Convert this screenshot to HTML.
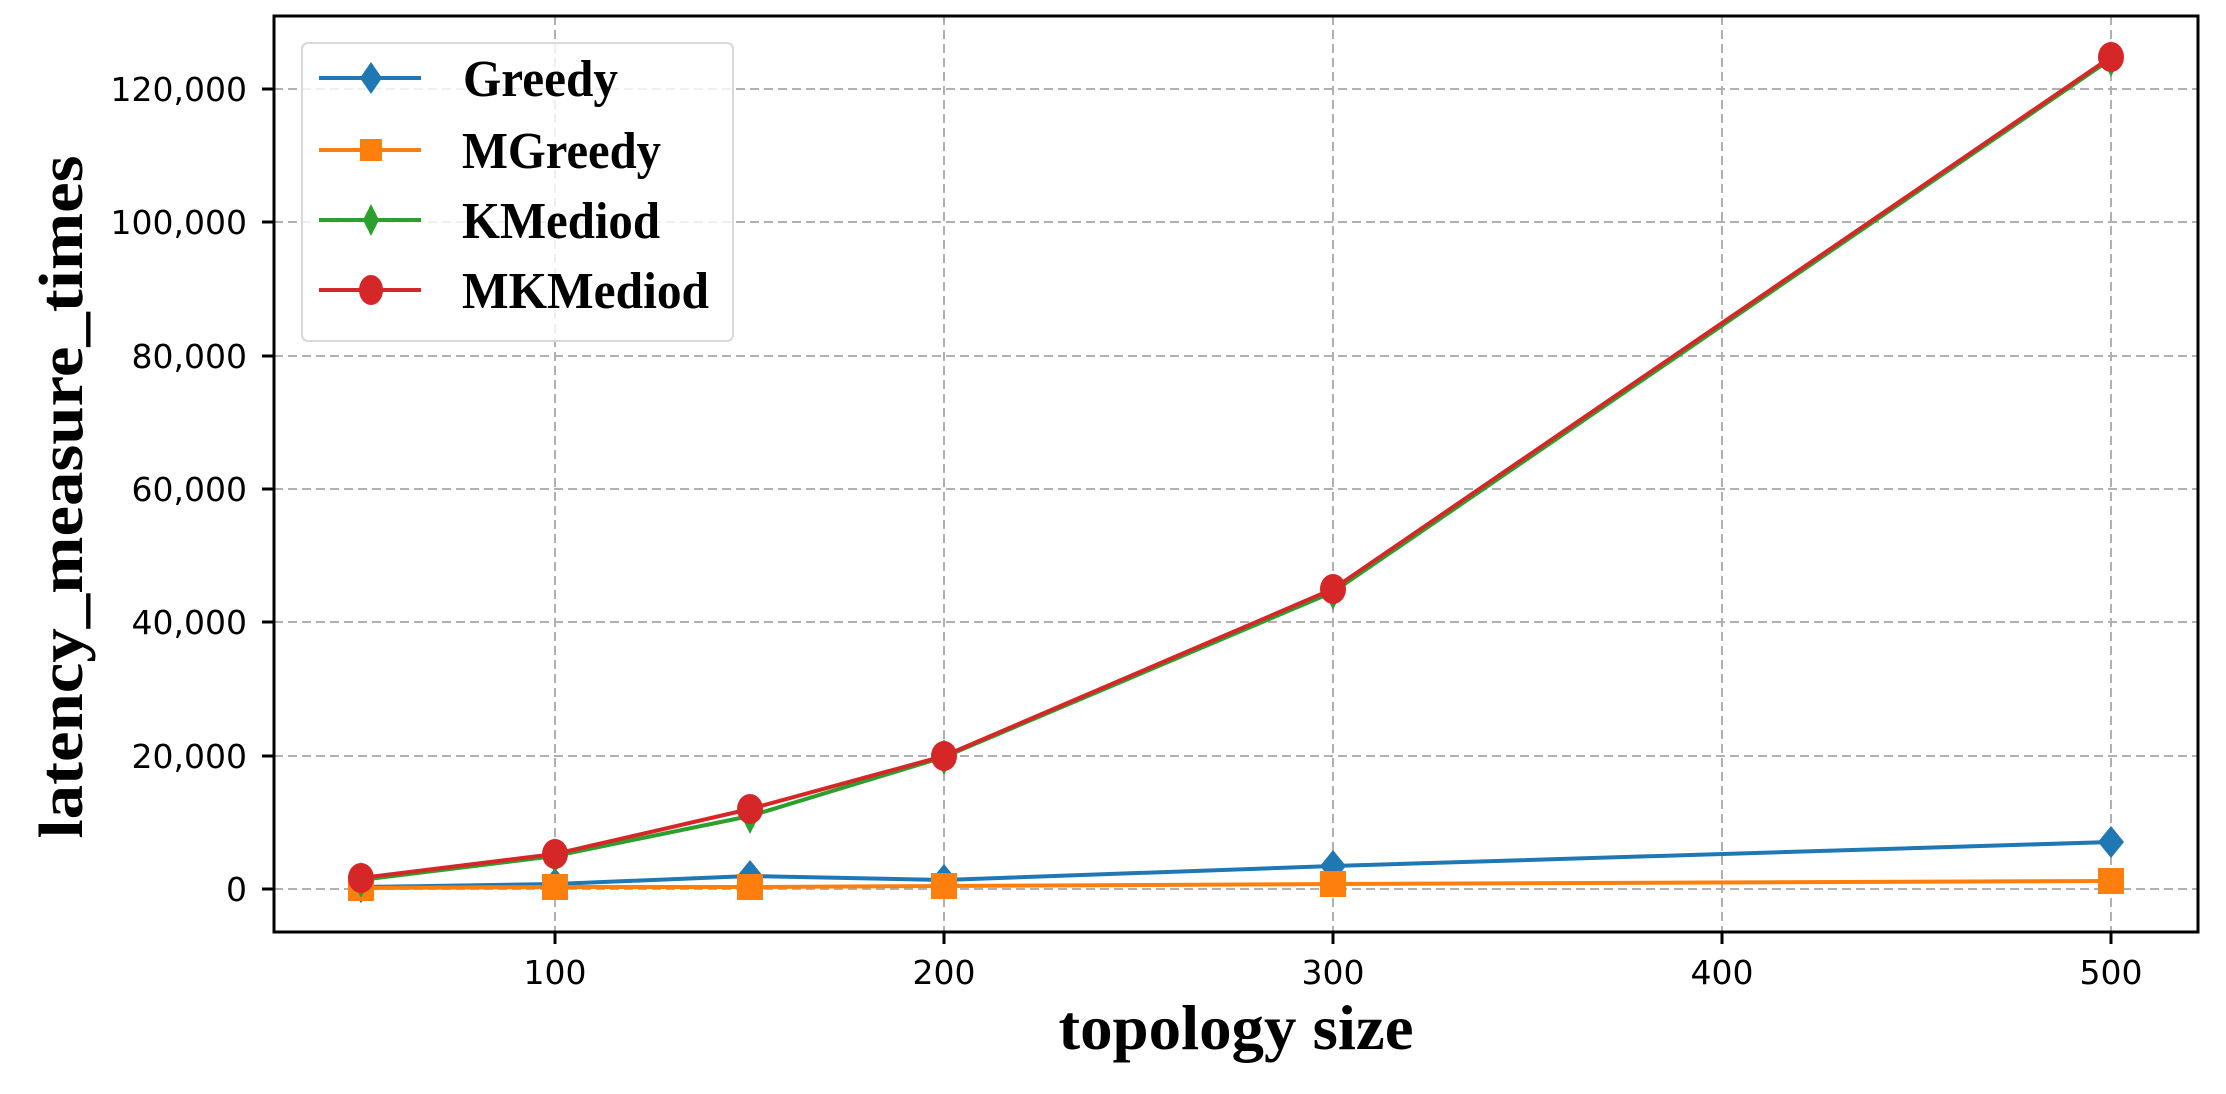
<!DOCTYPE html>
<html><head><meta charset="utf-8"><style>html,body{margin:0;padding:0;background:#fff}</style></head>
<body>
<svg width="2226" height="1089" xmlns="http://www.w3.org/2000/svg">
<defs>
<clipPath id="c"><rect x="274" y="16" width="1924" height="916"/></clipPath>
</defs>
<rect width="2226" height="1089" fill="#fff"/>
<g stroke="#b0b0b0" stroke-width="2" stroke-dasharray="9,5">
<line x1="555" y1="16" x2="555" y2="932"/>
<line x1="944" y1="16" x2="944" y2="932"/>
<line x1="1333" y1="16" x2="1333" y2="932"/>
<line x1="1722" y1="16" x2="1722" y2="932"/>
<line x1="2111" y1="16" x2="2111" y2="932"/>
<line x1="274" y1="889" x2="2198" y2="889"/>
<line x1="274" y1="756" x2="2198" y2="756"/>
<line x1="274" y1="622" x2="2198" y2="622"/>
<line x1="274" y1="489" x2="2198" y2="489"/>
<line x1="274" y1="356" x2="2198" y2="356"/>
<line x1="274" y1="222" x2="2198" y2="222"/>
<line x1="274" y1="89" x2="2198" y2="89"/>
</g>
<g clip-path="url(#c)" stroke-linejoin="round">
<polyline fill="none" stroke="#1f77b4" stroke-width="4" points="361,887 555,884 750,876 944,880 1333,866 2111,842"/>
<g fill="#1f77b4">
<polygon points="361,871 374,887 361,903 348,887"/><polygon points="555,868 568,884 555,900 542,884"/>
<polygon points="750,860 763,876 750,892 737,876"/><polygon points="944,864 957,880 944,896 931,880"/>
<polygon points="1333,850 1346,866 1333,882 1320,866"/><polygon points="2111,826 2124,842 2111,858 2098,842"/>
</g>
<polyline fill="none" stroke="#ff7f0e" stroke-width="4" points="361,888 555,887 750,887 944,886 1333,884 2111,881"/>
<g fill="#ff7f0e">
<rect x="348" y="875" width="26" height="26"/><rect x="542" y="874" width="26" height="26"/>
<rect x="737" y="874" width="26" height="26"/><rect x="931" y="873" width="26" height="26"/>
<rect x="1320" y="871" width="26" height="26"/><rect x="2098" y="868" width="26" height="26"/>
</g>
<polyline fill="none" stroke="#2ca02c" stroke-width="4" points="361,880 555,856 750,816 944,757 1333,592 2111,59"/>
<g fill="#2ca02c">
<polygon points="361,862 370,880 361,898 352,880"/><polygon points="555,838 564,856 555,874 546,856"/>
<polygon points="750,798 759,816 750,834 741,816"/><polygon points="944,739 953,757 944,775 935,757"/>
<polygon points="1333,574 1342,592 1333,610 1324,592"/><polygon points="2111,41 2120,59 2111,77 2102,59"/>
</g>
<polyline fill="none" stroke="#d62728" stroke-width="4" points="361,878 555,854 750,809 944,756 1333,589 2111,57"/>
<g fill="#d62728">
<ellipse cx="361" cy="878" rx="13" ry="15"/><ellipse cx="555" cy="854" rx="13" ry="15"/><ellipse cx="750" cy="809" rx="13" ry="15"/>
<ellipse cx="944" cy="756" rx="13" ry="15"/><ellipse cx="1333" cy="589" rx="13" ry="15"/><ellipse cx="2111" cy="57" rx="13" ry="15"/>
</g>
</g>
<rect x="274" y="16" width="1924" height="916" fill="none" stroke="#000" stroke-width="3"/>
<g stroke="#000" stroke-width="3">
<line x1="555" y1="932" x2="555" y2="944"/><line x1="944" y1="932" x2="944" y2="944"/>
<line x1="1333" y1="932" x2="1333" y2="944"/><line x1="1722" y1="932" x2="1722" y2="944"/>
<line x1="2111" y1="932" x2="2111" y2="944"/>
<line x1="262" y1="889" x2="274" y2="889"/><line x1="262" y1="756" x2="274" y2="756"/>
<line x1="262" y1="622" x2="274" y2="622"/><line x1="262" y1="489" x2="274" y2="489"/>
<line x1="262" y1="356" x2="274" y2="356"/><line x1="262" y1="222" x2="274" y2="222"/>
<line x1="262" y1="89" x2="274" y2="89"/>
</g>
<g font-family="DejaVu Sans, sans-serif" font-size="33" fill="#000">
<g text-anchor="middle">
<text x="555" y="984">100</text><text x="944" y="984">200</text><text x="1333" y="984">300</text>
<text x="1722" y="984">400</text><text x="2111" y="984">500</text>
</g>
<g text-anchor="end">
<text x="247" y="901">0</text><text x="247" y="768">20,000</text><text x="247" y="634">40,000</text>
<text x="247" y="501">60,000</text><text x="247" y="368">80,000</text><text x="247" y="234">100,000</text>
<text x="247" y="101">120,000</text>
</g>
</g>
<g font-family="Liberation Serif, serif" font-weight="bold" fill="#000">
<text x="1236" y="1049" font-size="64" text-anchor="middle" textLength="355" lengthAdjust="spacingAndGlyphs">topology size</text>
<text transform="translate(82,497) rotate(-90)" font-size="62" text-anchor="middle" textLength="683" lengthAdjust="spacingAndGlyphs">latency_measure_times</text>
</g>
<rect x="302" y="43" width="431" height="298" rx="6" fill="#fff" fill-opacity="0.8" stroke="#d8d8d8" stroke-width="2"/>
<g stroke-width="4">
<line x1="319" y1="78" x2="421" y2="78" stroke="#1f77b4"/>
<polygon points="371,62 382,78 371,94 360,78" fill="#1f77b4"/>
<line x1="319" y1="150" x2="421" y2="150" stroke="#ff7f0e"/>
<rect x="360" y="139" width="22" height="22" fill="#ff7f0e"/>
<line x1="319" y1="220" x2="421" y2="220" stroke="#2ca02c"/>
<polygon points="371,204 379,220 371,236 363,220" fill="#2ca02c"/>
<line x1="319" y1="290" x2="421" y2="290" stroke="#d62728"/>
<ellipse cx="371" cy="290" rx="12" ry="15" fill="#d62728"/>
</g>
<g font-family="Liberation Serif, serif" font-weight="bold" font-size="52" fill="#000">
<text x="463" y="96" textLength="155" lengthAdjust="spacingAndGlyphs">Greedy</text>
<text x="462" y="168" textLength="199" lengthAdjust="spacingAndGlyphs">MGreedy</text>
<text x="462" y="238" textLength="198" lengthAdjust="spacingAndGlyphs">KMediod</text>
<text x="462" y="308" textLength="247" lengthAdjust="spacingAndGlyphs">MKMediod</text>
</g>
</svg>
</body></html>
